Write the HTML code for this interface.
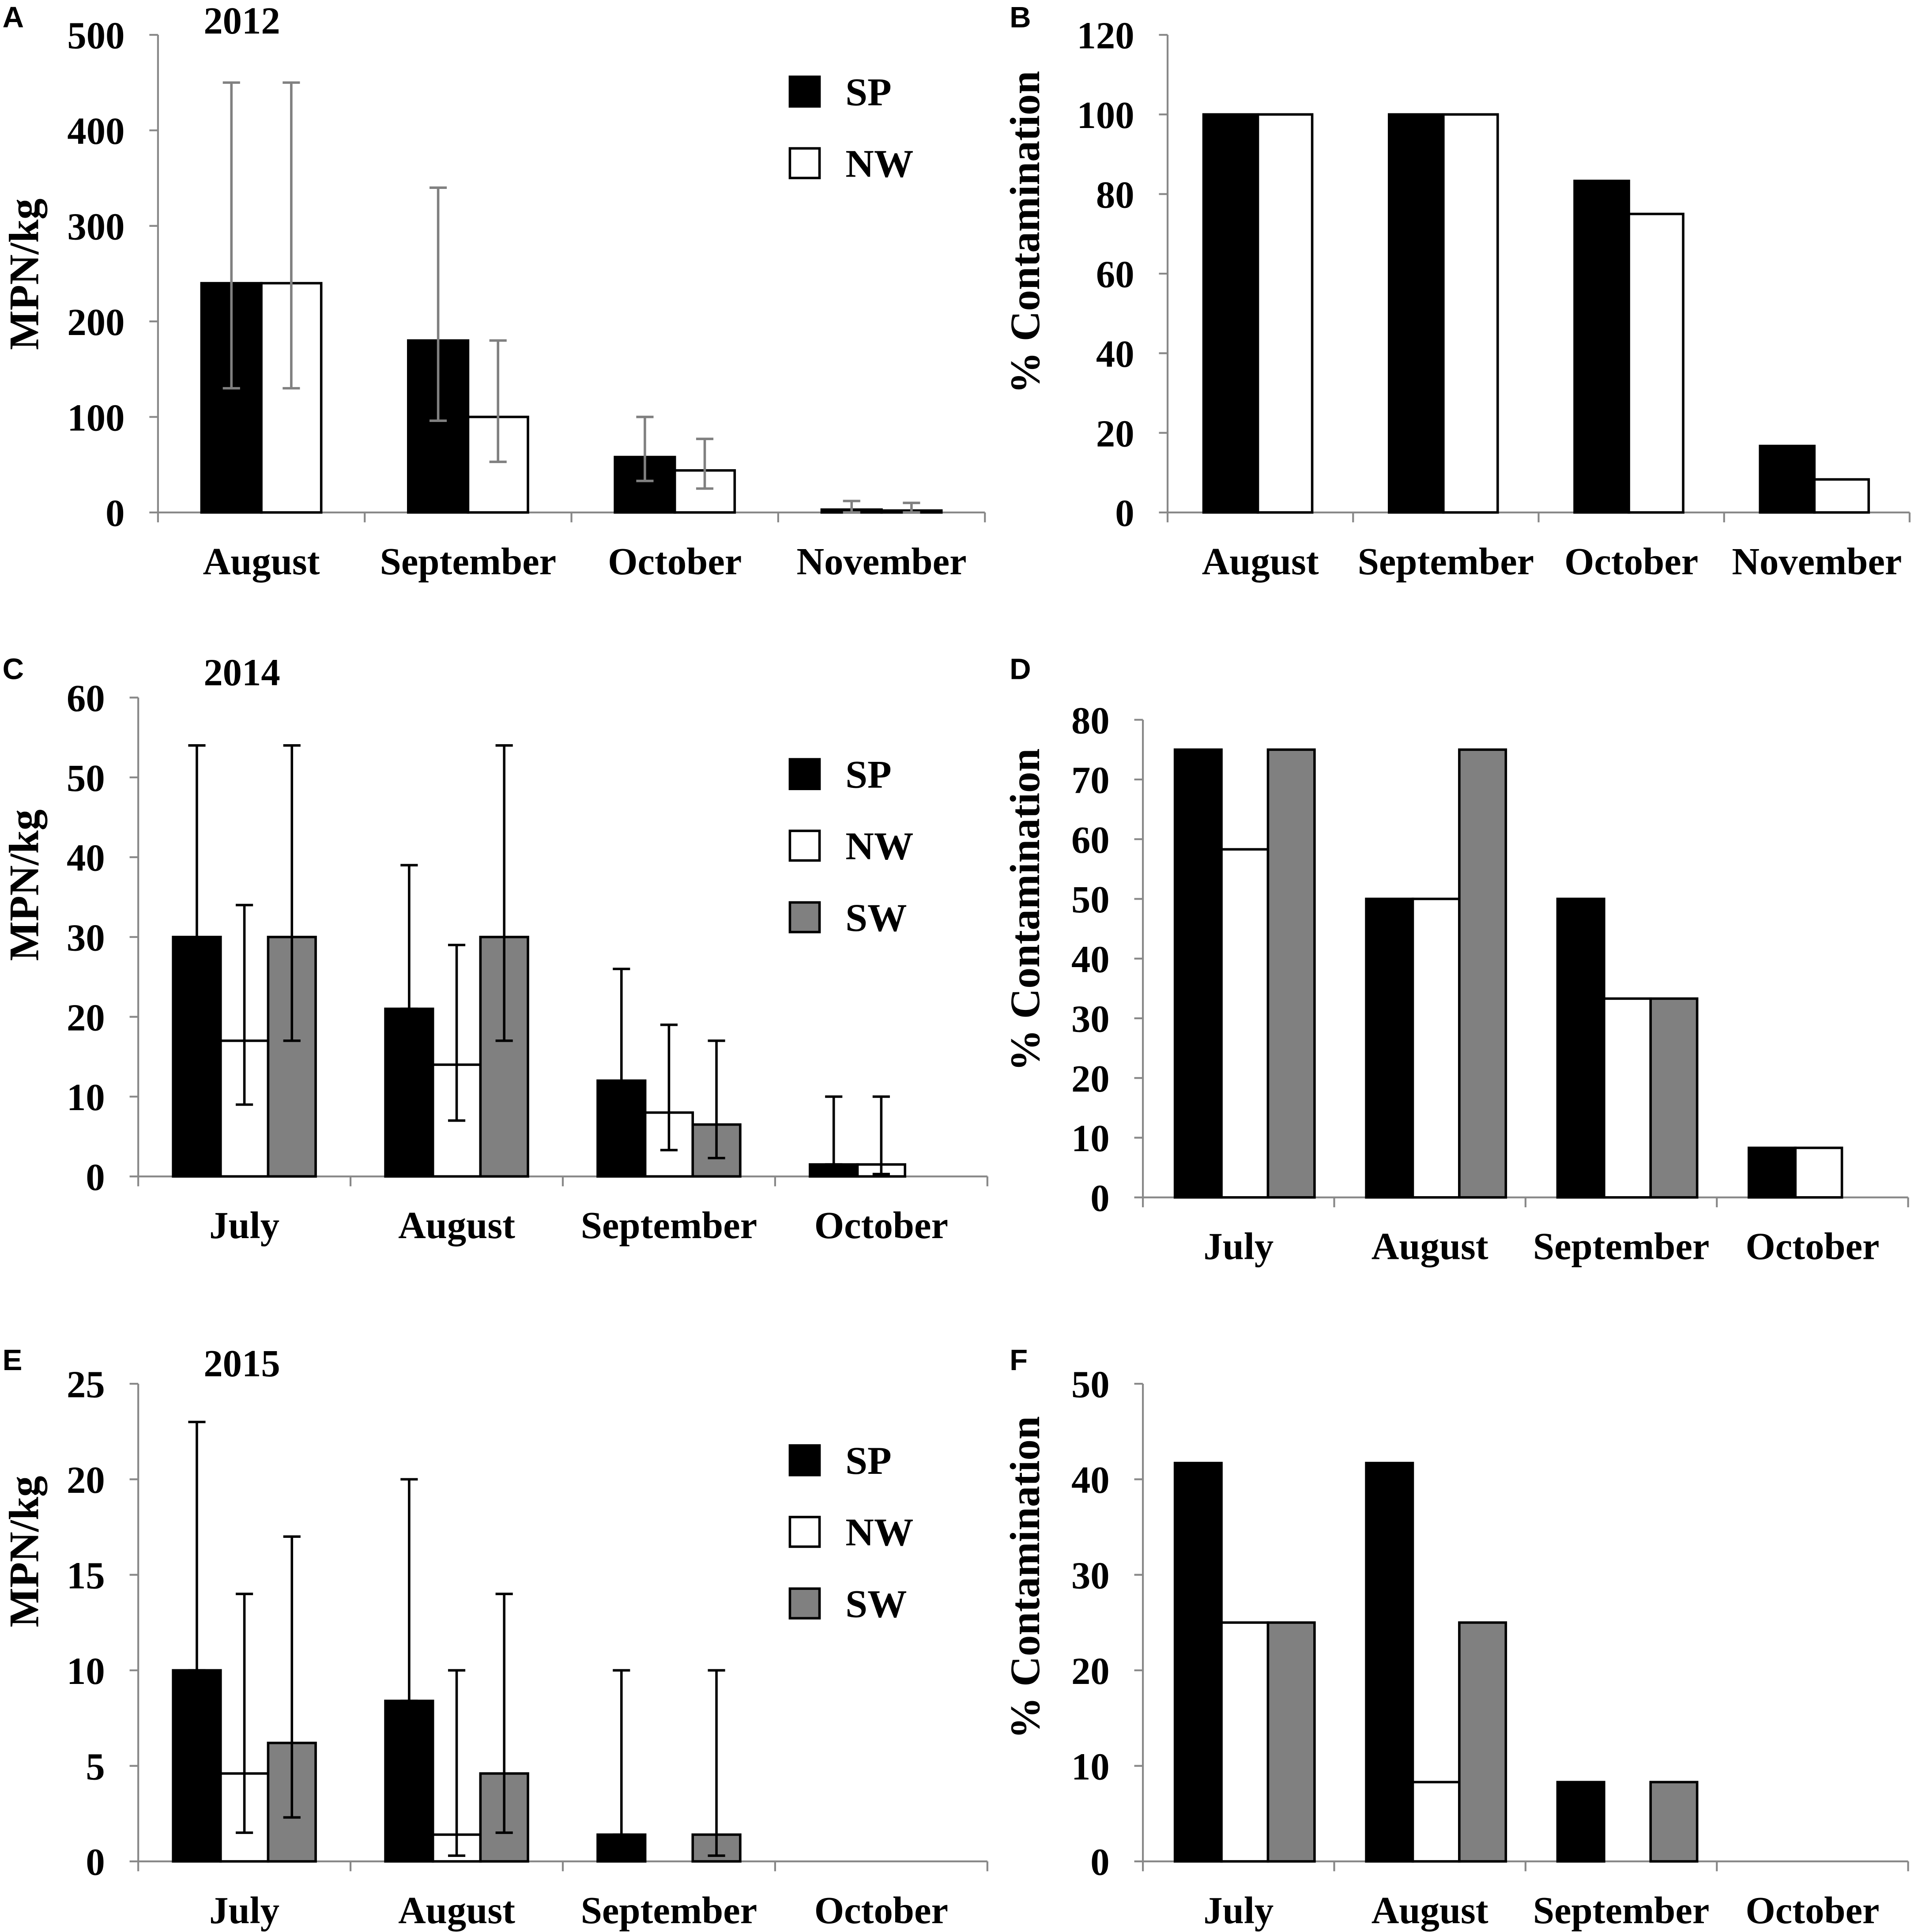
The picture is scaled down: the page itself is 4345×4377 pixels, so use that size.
<!DOCTYPE html>
<html><head><meta charset="utf-8"><style>
html,body{margin:0;padding:0;background:#fff}
svg{display:block}
text{font-family:"Liberation Serif",serif;font-weight:bold;fill:#000}
text.sans{font-family:"Liberation Sans",sans-serif}
</style></head><body>
<svg id="fig" width="4345" height="4377" viewBox="0 0 1554 1565" xmlns="http://www.w3.org/2000/svg"></svg>
<script>
// ---- Data ----
const catsA = ["August","September","October","November"];
const aSP = [240,180,58,3];
const aNW = [240,100,44,2];
const aSPlo = [130,96,33,0], aSPhi = [450,340,100,12];
const aNWlo = [130,53,25,0], aNWhi = [450,180,77,10];
const aTicks = [0,100,200,300,400,500];

const catsB = ["August","September","October","November"];
const bSP = [100,100,83.3,16.7];
const bNW = [100,100,75,8.3];
const bTicks = [0,20,40,60,80,100,120];

const catsC = ["July","August","September","October"];
const cSP = [30,21,12,1.5];
const cNW = [17,14,8,1.5];
const cSW = [30,30,6.5,0];
const cSPlo = [30,21,12,1.5], cSPhi = [54,39,26,10];
const cNWlo = [9,7,3.3,0.3], cNWhi = [34,29,19,10];
const cSWlo = [17,17,2.3,0], cSWhi = [54,54,17,0];
const cTicks = [0,10,20,30,40,50,60];

const catsD = ["July","August","September","October"];
const dSP = [75,50,50,8.3];
const dNW = [58.3,50,33.3,8.3];
const dSW = [75,75,33.3,0];
const dTicks = [0,10,20,30,40,50,60,70,80];

const catsE = ["July","August","September","October"];
const eSP = [10,8.4,1.4,0];
const eNW = [4.6,1.4,0,0];
const eSW = [6.2,4.6,1.4,0];
const eSPlo = [10,8.4,1.4,0], eSPhi = [23,20,10,0];
const eNWlo = [1.5,0.3,0,0], eNWhi = [14,10,0,0];
const eSWlo = [2.3,1.5,0.3,0], eSWhi = [17,14,10,0];
const eTicks = [0,5,10,15,20,25];

const catsF = ["July","August","September","October"];
const fSP = [41.7,41.7,8.3,0];
const fNW = [25,8.3,0,0];
const fSW = [25,25,8.3,0];
const fTicks = [0,10,20,30,40,50];

const NS = "http://www.w3.org/2000/svg";
const svg = document.getElementById('fig');
function mk(tag, attrs, parent){
  const e = document.createElementNS(NS, tag);
  for (const k in attrs) e.setAttribute(k, attrs[k]);
  (parent||svg).appendChild(e);
  return e;
}
function txt(s, x, y, size, anchor, parent){
  const t = mk('text', {x:x, y:y, 'font-size':size, 'text-anchor':anchor||'start'}, parent);
  t.textContent = s;
  return t;
}
const fills = {SP:'#000', NW:'#fff', SW:'#808080'};

function panel(o){
  const g = mk('g', {});
  
  
  const ymax = o.ticks[o.ticks.length-1];
  const Y = v => o.y0 - (v/ymax)*(o.y0-o.yTop);
  const n = o.cats.length;
  const X = i => o.x0 + i*o.cw;
  const ya = mk('line', {x1:o.x0, y1:o.y0, x2:o.x0, y2:o.yTop, stroke:'#888', 'stroke-width':1.5}, g);
  
  
  o.ticks.forEach(t => {
    mk('line', {x1:o.x0-7, y1:Y(t), x2:o.x0, y2:Y(t), stroke:'#888', 'stroke-width':1.5}, g);
    const tl = txt(String(t), o.x0-27, Y(t)+11, 31, 'end', g);
    
    
  });
  const xa = mk('line', {x1:o.x0, y1:o.y0, x2:X(n), y2:o.y0, stroke:'#888', 'stroke-width':1.5}, g);
  
  
  for (let i=0;i<=n;i++) mk('line', {x1:X(i), y1:o.y0, x2:X(i), y2:o.y0+8, stroke:'#888', 'stroke-width':1.5}, g);
  o.cats.forEach((c,i) => {
    const cl = txt(c, X(i)+o.cw/2, o.y0+50, 31, 'middle', g);
    
    
  });
  const ns = o.series.length;
  const start = o.cw/2 - (ns===2 ? o.bw : o.bw*1.5) + (o.shift||0);
  o.series.forEach((s, si) => {
    s.vals.forEach((v, i) => {
      const bx = X(i) + start + si*o.bw;
      const r = mk('rect', {x:bx, y:Y(v), width:o.bw, height:o.y0-Y(v), fill:fills[s.key], stroke:'#000', 'stroke-width':2}, g);
      
      
      if (s.lo && s.hi[i] > 0) {
        const cx = bx + o.bw/2;
        const eg = mk('g', {stroke:o.errColor, 'stroke-width':2}, g);
        
        
        mk('line', {x1:cx, y1:Y(s.lo[i]), x2:cx, y2:Y(s.hi[i])}, eg);
        mk('line', {x1:cx-7, y1:Y(s.hi[i]), x2:cx+7, y2:Y(s.hi[i])}, eg);
        mk('line', {x1:cx-7, y1:Y(s.lo[i]), x2:cx+7, y2:Y(s.lo[i])}, eg);
      }
    });
  });
  const yt = txt(o.ytitle, 0, 0, o.ysize||34, 'middle', g);
  yt.setAttribute('transform', 'translate(' + o.ytx + ',' + o.yty + ') rotate(-90)');
  
  
  const pl = txt(o.letter, o.lx, o.ly, 24, 'start', g);
  pl.setAttribute('class', 'sans');
  
  
  if (o.year) {
    const yr = txt(o.year, 165, o.ly+5, 31, 'start', g);
    
    
  }
  if (o.legendY) {
    o.series.forEach((s, si) => {
      const ly = o.legendY + si*o.legendStep;
      const lg = mk('g', {}, g);
      
      
      mk('rect', {x:640, y:ly, width:24, height:24, fill:fills[s.key], stroke:'#000', 'stroke-width':2}, lg);
      txt(s.key, 685, ly+23, 32, 'start', lg);
    });
  }
}

panel({name:'panel-a', letter:'A', lx:2, ly:22, year:'2012', x0:128, y0:415, yTop:28, cw:167.5, bw:48.5,
  cats:catsA, ticks:aTicks, ytitle:'MPN/kg', ytx:31, yty:222, errColor:'#808080', legendY:62, legendStep:58,
  series:[{key:'SP', vals:aSP, lo:aSPlo, hi:aSPhi},{key:'NW', vals:aNW, lo:aNWlo, hi:aNWhi}]});
panel({name:'panel-b', letter:'B', lx:818, ly:22, x0:946, y0:415, yTop:28, cw:150.3, bw:44, shift:-2,
  cats:catsB, ticks:bTicks, ytitle:'% Contamination', ytx:842, yty:188,
  series:[{key:'SP', vals:bSP},{key:'NW', vals:bNW}]});
panel({name:'panel-c', letter:'C', lx:2, ly:550, year:'2014', x0:112, y0:953, yTop:565, cw:172, bw:38.5,
  cats:catsC, ticks:cTicks, ytitle:'MPN/kg', ytx:31, yty:717, errColor:'#000', legendY:615, legendStep:58,
  series:[{key:'SP', vals:cSP, lo:cSPlo, hi:cSPhi},{key:'NW', vals:cNW, lo:cNWlo, hi:cNWhi},{key:'SW', vals:cSW, lo:cSWlo, hi:cSWhi}]});
panel({name:'panel-d', letter:'D', lx:818, ly:550, x0:926, y0:970, yTop:583, cw:155, bw:37.7, shift:5,
  cats:catsD, ticks:dTicks, ytitle:'% Contamination', ytx:842, yty:737,
  series:[{key:'SP', vals:dSP},{key:'NW', vals:dNW},{key:'SW', vals:dSW}]});
panel({name:'panel-e', letter:'E', lx:2, ly:1110, year:'2015', x0:112, y0:1508, yTop:1121, cw:172, bw:38.5,
  cats:catsE, ticks:eTicks, ytitle:'MPN/kg', ytx:31, yty:1257, errColor:'#000', legendY:1171, legendStep:58,
  series:[{key:'SP', vals:eSP, lo:eSPlo, hi:eSPhi},{key:'NW', vals:eNW, lo:eNWlo, hi:eNWhi},{key:'SW', vals:eSW, lo:eSWlo, hi:eSWhi}]});
panel({name:'panel-f', letter:'F', lx:818, ly:1110, x0:926, y0:1508, yTop:1121, cw:155, bw:37.7, shift:5,
  cats:catsF, ticks:fTicks, ytitle:'% Contamination', ytx:842, yty:1278,
  series:[{key:'SP', vals:fSP},{key:'NW', vals:fNW},{key:'SW', vals:fSW}]});
</script>
</body></html>
